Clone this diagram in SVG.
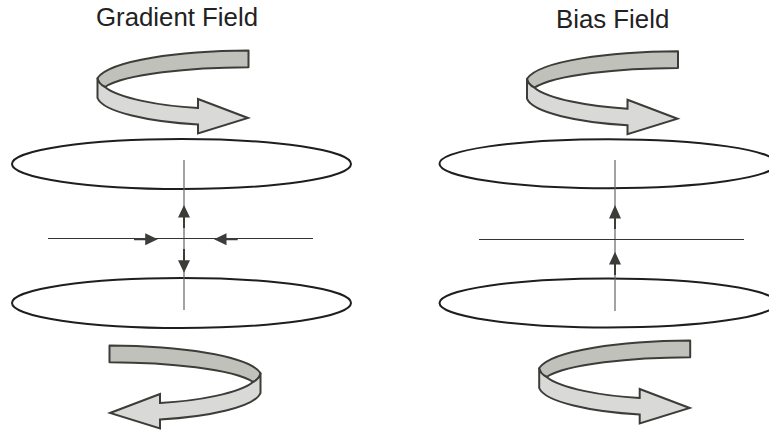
<svg xmlns="http://www.w3.org/2000/svg" width="769" height="431" viewBox="0 0 769 431">
<style>
text{font-family:"Liberation Sans",Arial,sans-serif;font-size:25.8px;fill:#222}
.coil{fill:none;stroke:#1e1e1e;stroke-width:2}
.axis{stroke:#666;stroke-width:1.2;fill:none}
.axisH{stroke:#333;stroke-width:1;fill:none}
.shaft{stroke:#3c3d38;stroke-width:2;fill:none}
.head{fill:#3c3d38}
.back{fill:#c1c1bc;stroke:#3c3d38;stroke-width:2;stroke-linejoin:round}
.front{fill:#d9d9d7;stroke:#3c3d38;stroke-width:2;stroke-linejoin:miter}
</style>
<defs>
<g id="swirl">
<path class="back" d="M248.500 50.500C180 51 110 60 97.500 78C98 83 101 85 105 87C125 74 190 67.500 248.500 67.300Z"/>
<path class="front" d="M97.500 78L97.500 98C103 112 150 122 198 124.500L198 133.500L248 118L198 99L198 108C160 106 118 98 105 87C101 85 98 83 97.500 78Z"/>
</g>
</defs>
<g id="title-gradient"><text x="96" y="26">Gradient Field</text></g>
<g id="title-bias"><text x="556" y="28.300">Bias Field</text></g>
<g id="swirl-gradient-top"><use href="#swirl"/></g>
<g id="swirl-gradient-bottom"><use href="#swirl" transform="translate(358 295) scale(-1 1)"/></g>
<g id="swirl-bias-top"><use href="#swirl" transform="translate(429.500 .7)"/></g>
<g id="swirl-bias-bottom"><use href="#swirl" transform="translate(441.700 290)"/></g>
<g id="coil-gradient-top"><ellipse class="coil" cx="181.500" cy="164" rx="169.500" ry="25"/></g>
<g id="coil-gradient-bottom"><ellipse class="coil" cx="181.500" cy="303" rx="169.500" ry="25"/></g>
<g id="coil-bias-top"><ellipse class="coil" cx="608" cy="163.700" rx="168.500" ry="24.500"/></g>
<g id="coil-bias-bottom"><ellipse class="coil" cx="608" cy="303" rx="168.500" ry="24.500"/></g>
<g id="connectors">
<path class="axis" d="M184 160V310M615 160V311"/>
<path class="axisH" d="M48 238.500H313M479 239.500H744"/>
<path class="shaft" d="M184 228V216M184 249V261M134 239.300H146M237.700 239.300H226M615 229V217M615 275V263"/>
<path class="head" d="M184 205l6 12.500h-12zM184 272.700l6-12.500h-12zM157.700 239.300l-12.500-6v12zM214 239.300l12.500-6v12zM615 205l6 13.500h-12zM615 251.700l6 12.800h-12z"/>
</g>
</svg>
